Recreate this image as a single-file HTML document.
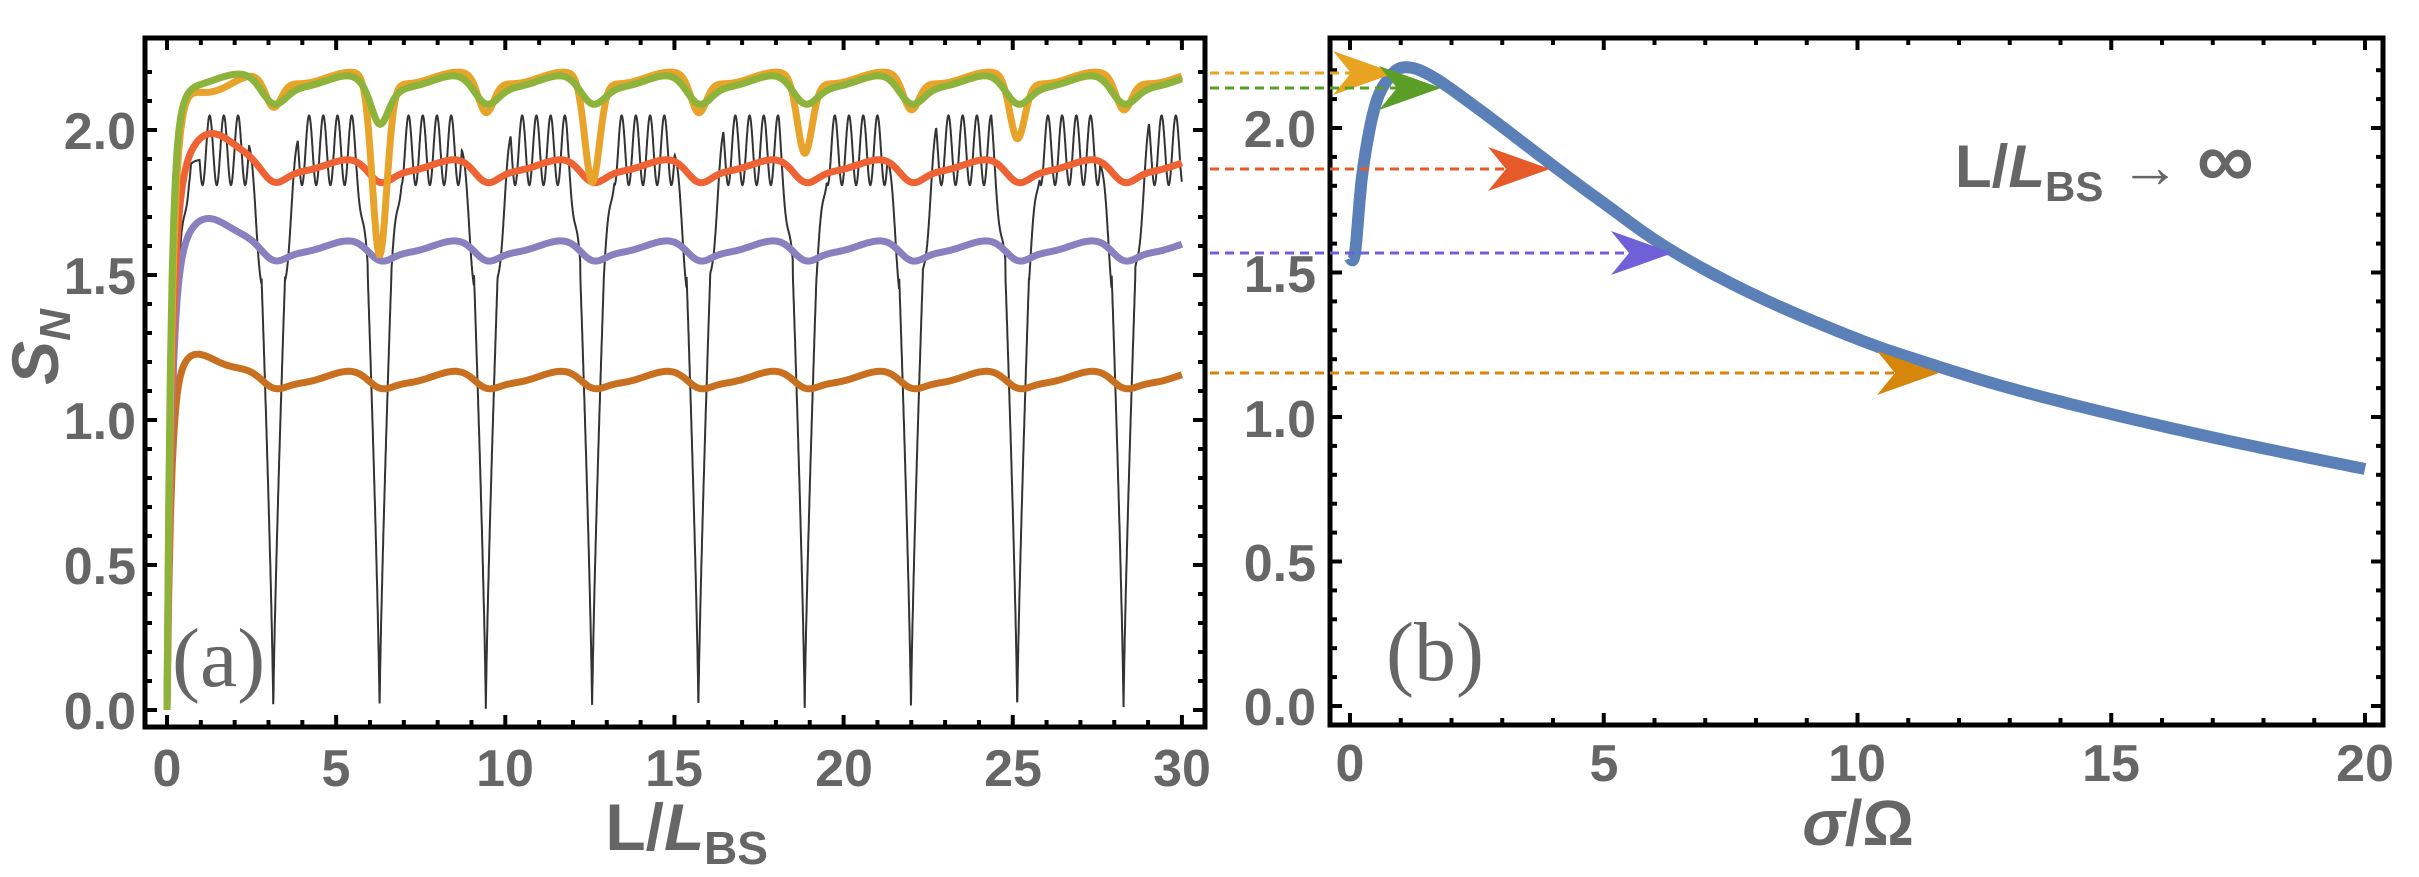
<!DOCTYPE html>
<html><head><meta charset="utf-8"><style>
html,body{margin:0;padding:0;background:#fff;}
svg{display:block;}
text{font-family:"Liberation Sans",sans-serif;font-weight:bold;fill:#666;}
</style></head><body>
<svg id="s" width="2419" height="877" viewBox="0 0 2419 877" xmlns="http://www.w3.org/2000/svg">
<g id="ga"></g>
<g id="gb"></g>
<g id="gt"></g>
<g font-size="52" text-anchor="end">
<text x="136" y="729">0.0</text><text x="136" y="584">0.5</text><text x="136" y="439">1.0</text><text x="136" y="294">1.5</text><text x="136" y="149">2.0</text>
</g>
<g font-size="52" text-anchor="middle">
<text x="167" y="786">0</text><text x="336" y="786">5</text><text x="505" y="786">10</text><text x="674" y="786">15</text><text x="844" y="786">20</text><text x="1013" y="786">25</text><text x="1182" y="786">30</text>
</g>
<text x="664" y="850" font-size="66" text-anchor="end">L/</text>
<text x="664" y="850" font-size="66" font-style="italic">L</text>
<text x="704" y="864" font-size="46">BS</text>
<text transform="translate(58,347) rotate(-90)" font-size="66" text-anchor="middle"><tspan font-style="italic">S</tspan><tspan font-size="44" dy="12" font-style="italic">N</tspan></text>
<text x="172" y="686" font-size="84" style="font-family:'Liberation Serif',serif;font-weight:normal">(a)</text>
<g font-size="52" text-anchor="end">
<text x="1316" y="725">0.0</text><text x="1316" y="581">0.5</text><text x="1316" y="437">1.0</text><text x="1316" y="292">1.5</text><text x="1316" y="147">2.0</text>
</g>
<g font-size="52" text-anchor="middle">
<text x="1350" y="781">0</text><text x="1604" y="781">5</text><text x="1857" y="781">10</text><text x="2111" y="781">15</text><text x="2365" y="781">20</text>
</g>
<text x="1858" y="845" font-size="64" text-anchor="middle"><tspan font-style="italic">σ</tspan>/Ω</text>
<text x="1386" y="680" font-size="84" style="font-family:'Liberation Serif',serif;font-weight:normal">(b)</text>
<text x="1955" y="187" font-size="60">L/<tspan font-style="italic">L</tspan><tspan font-size="42" dy="14">BS</tspan><tspan dy="-14"> → </tspan><tspan font-size="80">∞</tspan></text>
</svg>
<script>
var NS="http://www.w3.org/2000/svg";
function el(p,t,a){var e=document.createElementNS(NS,t);for(var k in a)e.setAttribute(k,a[k]);document.getElementById(p).appendChild(e);return e;}
var ax=function(L){return 167+33.83*L}, ay=function(v){return 710-290*v};
var P=Math.PI;
function nd(L){var k=Math.round(L/P);return {d:L-k*P,k:k};}
function path(f,a,b,n){var s="";for(var i=0;i<=n;i++){var L=a+(b-a)*i/n;var v=f(L);s+=(i?"L":"M")+ax(L).toFixed(1)+" "+ay(v).toFixed(1);}return s;}
function gray(L){var r=nd(L);var d=Math.abs(r.d);
 var base=1.93+0.12*Math.cos(2*P*L/0.42);
 var v;
 if(d<0.35) v=1.5*Math.pow(d/0.35,0.8);
 else v=Math.min(base,1.5+(d-0.35)*1.2+0.05*Math.cos(2*P*L/0.42));
 if(L<1) v=Math.min(v,1.9*(1-Math.exp(-L/0.15)));
 return Math.max(v,0);}
function col(top,depth,w,peak,pk,tau,extra){return function(L){var r=nd(L);var d=r.d;
 var v=top-depth*Math.exp(-(d/w)*(d/w))-0.02*Math.sin(d*2);
 if(extra&&r.k>0&&extra[r.k]!==undefined) v-=extra[r.k]*Math.exp(-(d/0.3)*(d/0.3));
 v+= (peak-top)*Math.exp(-Math.pow((L-pk)/0.9,2));
 v*= (1-Math.exp(-L/tau));
 return v;}}
el("ga","path",{d:path(gray,0,30,6000),stroke:"#333",fill:"none","stroke-width":2});
el("ga","path",{d:path(col(1.15,0.04,0.5,1.25,0.8,0.12),0,30,600),stroke:"#c8701f",fill:"none","stroke-width":7});
el("ga","path",{d:path(col(1.6,0.05,0.5,1.71,1.1,0.14),0,30,600),stroke:"#8a7fbf",fill:"none","stroke-width":7});
el("ga","path",{d:path(col(1.88,0.06,0.5,2.0,1.2,0.15),0,30,600),stroke:"#ee6233",fill:"none","stroke-width":7});
el("ga","path",{d:path(col(2.18,0.06,0.35,2.14,1.5,0.15,{1:0.04,2:0.55,3:0.06,4:0.3,5:0.06,6:0.2,7:0.05,8:0.15,9:0.05}),0,30,1200),stroke:"#e8a42a",fill:"none","stroke-width":7});
el("ga","path",{d:path(col(2.17,0.08,0.5,2.18,1.5,0.12,{2:0.07}),0,30,600),stroke:"#8db33a",fill:"none","stroke-width":7});
function frame(x0,y0,x1,y1,xt,yt){
 el("gt","rect",{x:x0,y:y0,width:x1-x0,height:y1-y0,fill:"none",stroke:"#000","stroke-width":5});
 xt.forEach(function(t){var len=t[1]?12:7;el("gt","line",{x1:t[0],x2:t[0],y1:y1,y2:y1-len,stroke:"#000","stroke-width":4});el("gt","line",{x1:t[0],x2:t[0],y1:y0,y2:y0+len,stroke:"#000","stroke-width":4});});
 yt.forEach(function(t){var len=t[1]?12:7;el("gt","line",{y1:t[0],y2:t[0],x1:x0,x2:x0+len,stroke:"#000","stroke-width":4});el("gt","line",{y1:t[0],y2:t[0],x1:x1,x2:x1-len,stroke:"#000","stroke-width":4});});
}
var xt=[],yt=[];for(var i=0;i<=30;i++)xt.push([ax(i),i%5==0]);for(var i=0;i<=22;i++)yt.push([ay(i/10),i%5==0]);
frame(145,38,1205,727,xt,yt);
var bx=function(s){return 1350+50.75*s}, by=function(v){return 706-289*v};
var xt2=[],yt2=[];for(var i=0;i<=20;i++)xt2.push([bx(i),i%5==0]);for(var i=0;i<=22;i++)yt2.push([by(i/10),i%5==0]);
frame(1330,38,2383,725,xt2,yt2);
// blue curve via Catmull-Rom through points
var K=[[0,1.55],[0.1,1.57],[0.25,1.85],[0.5,2.08],[0.8,2.18],[1.1,2.21],[1.6,2.18],[2.5,2.07],[4,1.87],[5,1.74],[6.3,1.58],[8,1.42],[10,1.27],[11.5,1.18],[13,1.1],[15,1.01],[17.5,0.91],[20,0.82]];
var pts="M"+bx(K[0][0])+" "+by(K[0][1]);
for(var i=0;i<K.length-1;i++){var p0=K[Math.max(i-1,0)],p1=K[i],p2=K[i+1],p3=K[Math.min(i+2,K.length-1)];
 for(var j=1;j<=20;j++){var t=j/20,t2=t*t,t3=t2*t;
  var f=function(a,b,c,d){return 0.5*((2*b)+(-a+c)*t+(2*a-5*b+4*c-d)*t2+(-a+3*b-3*c+d)*t3);};
  pts+="L"+bx(f(p0[0],p1[0],p2[0],p3[0])).toFixed(1)+" "+by(f(p0[1],p1[1],p2[1],p3[1])).toFixed(1);}}
el("gb","path",{d:pts,stroke:"#5b80b8",fill:"none","stroke-width":12});
[[73,1395,"#e8a321"],[88,1441,"#5a9e28"],[169,1550,"#e65a2a"],[253,1673,"#7060d8"],[373,1939,"#d6860a"]].forEach(function(a){
 el("gt","line",{x1:1210,x2:a[1]-30,y1:a[0],y2:a[0],stroke:a[2],"stroke-width":3,"stroke-dasharray":"9 6"});
 var x=a[1],y=a[0];
 el("gt","path",{d:"M"+(x-62)+" "+(y-22)+"L"+x+" "+y+"L"+(x-62)+" "+(y+22)+"L"+(x-44)+" "+y+"Z",fill:a[2]});
});
</script>
</body></html>
